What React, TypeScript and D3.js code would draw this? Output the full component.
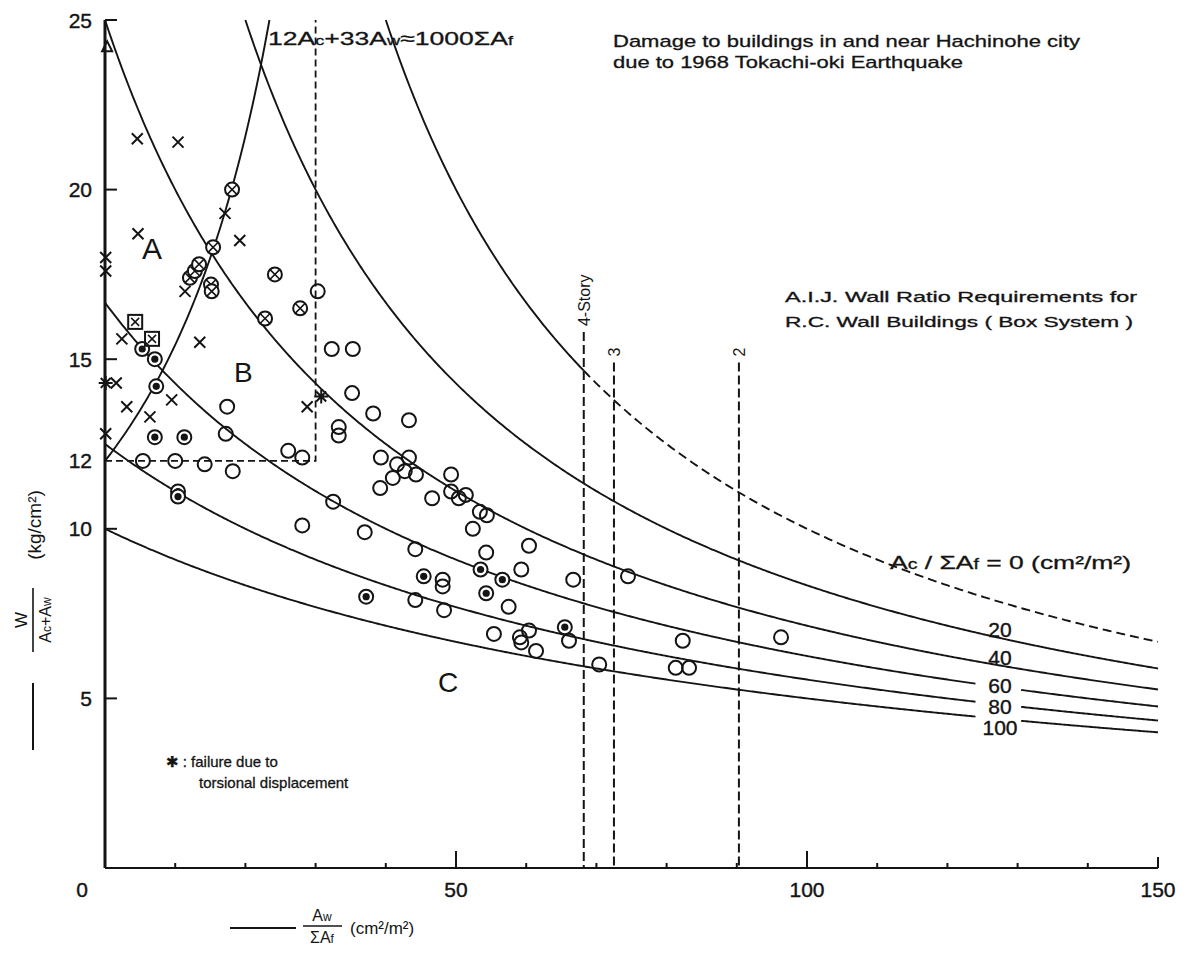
import React from 'react';
import * as d3 from 'd3';

// Ac/ΣAf levels of the hyperbolas y = 1000 / (c + x)
const ratioLevels = [0, 20, 40, 60, 80, 100];
const levelLabels = ['20', '40', '60', '80', '100'];
const xTickValues = [0, 50, 100, 150];
const yTickValues = [5, 10, 15, 20, 25];
const yTickLabels = ['25', '20', '15', '12', '10', '5'];
const storyLabels = ['4-Story', '3', '2'];
const storyX = [68.2, 72.5, 90.3];
const storyTop = [15.8, 14.9, 14.9];

// observed buildings [Aw/ΣAf, W/(Ac+Aw)]
const trianglePts = [[0.3, 24.2]];
const crossPts = [
  [4.6, 21.5], [10.4, 21.4], [4.7, 18.7], [17.1, 19.3], [19.2, 18.5], [11.4, 17.0],
  [0.1, 18.0], [0.1, 17.6], [1.6, 14.3], [0.1, 12.8], [2.4, 15.6], [3.1, 13.6],
  [6.4, 13.3], [9.5, 13.8], [13.5, 15.5], [28.8, 13.6],
];
const asteriskPts = [[0.1, 14.3], [30.8, 13.9]];
const squarePts = [[4.3, 16.1], [6.7, 15.6]];
const circledCrossPts = [
  [12.1, 17.4], [12.8, 17.6], [13.4, 17.8], [18.1, 20.0], [15.4, 18.3], [15.1, 17.2],
  [15.2, 17.0], [24.2, 17.5], [27.8, 16.5], [22.8, 16.2],
];
const dotCirclePts = [
  [5.3, 15.3], [7.1, 15.0], [7.3, 14.2], [7.1, 12.7], [11.3, 12.7], [10.4, 11.1],
  [10.4, 10.95], [53.5, 8.8], [56.6, 8.5], [45.4, 8.6], [37.2, 8.0], [54.3, 8.1], [65.5, 7.1],
];
const openCirclePts = [
  [5.4, 12.0], [10.0, 12.0], [14.2, 11.9], [30.3, 17.0], [17.4, 13.6], [17.2, 12.8],
  [18.2, 11.7], [26.1, 12.3], [28.1, 12.1], [28.1, 10.1], [32.5, 10.8], [32.3, 15.3],
  [35.3, 15.3], [33.3, 13.0], [33.3, 12.75], [35.2, 14.0], [38.2, 13.4], [39.3, 12.1],
  [39.2, 11.2], [41.0, 11.5], [41.6, 11.9], [42.7, 11.7], [43.3, 12.1], [44.3, 11.6],
  [43.3, 13.2], [46.6, 10.9], [49.3, 11.6], [49.3, 11.1], [50.4, 10.9], [51.4, 11.0],
  [52.4, 10.0], [53.4, 10.5], [54.4, 10.4], [37.0, 9.9], [44.2, 9.4], [54.3, 9.3],
  [60.4, 9.5], [59.3, 8.8], [57.5, 7.7], [48.1, 8.5], [48.1, 8.3], [44.2, 7.9],
  [48.3, 7.6], [55.4, 6.9], [59.1, 6.8], [59.3, 6.65], [60.4, 7.0], [61.4, 6.4],
  [66.1, 6.7], [66.7, 8.5], [74.5, 8.6], [70.4, 6.0], [82.3, 6.7], [81.3, 5.9],
  [83.2, 5.9], [96.3, 6.8],
];

const W = 1188;
const H = 953;
const ink = '#141414';
const font = "'Liberation Sans', 'DejaVu Sans', sans-serif";

const x = d3.scaleLinear().domain([0, 150]).range([105, 1158]);
const y = d3.scaleLinear().domain([0, 25]).range([868, 20]);

const line = d3.line<number[]>().x(d => x(d[0])).y(d => y(d[1]));

const sample = (f: (v: number) => number, a: number, b: number) => {
  const pts = d3.range(a, b, 0.25).map(v => [v, f(v)]);
  pts.push([b, f(b)]);
  return line(pts) as string;
};

const Marker = ({ type, p }: { type: string; p: number[] }) => {
  const cx = x(p[0]);
  const cy = y(p[1]);
  const r = 7;
  const sw = 2;
  if (type === 'x') {
    const s = 5.5;
    return (
      <path d={`M${cx - s},${cy - s}L${cx + s},${cy + s}M${cx - s},${cy + s}L${cx + s},${cy - s}`} stroke={ink} strokeWidth={sw} />
    );
  }
  if (type === 'ast') {
    const s = 7;
    const d = d3.range(0, 180, 45).map(a => {
      const t = (a * Math.PI) / 180;
      return `M${cx - s * Math.cos(t)},${cy - s * Math.sin(t)}L${cx + s * Math.cos(t)},${cy + s * Math.sin(t)}`;
    }).join('');
    return <path d={d} stroke={ink} strokeWidth={sw} />;
  }
  if (type === 'tri') {
    return <path d={`M${cx},${cy - 6}L${cx + 5},${cy + 4}L${cx - 5},${cy + 4}Z`} fill="none" stroke={ink} strokeWidth={sw} />;
  }
  if (type === 'sq') {
    return (
      <g stroke={ink} strokeWidth={sw} fill="none">
        <rect x={cx - 7} y={cy - 7} width={14} height={14} />
        <path d={`M${cx - 4},${cy - 4}L${cx + 4},${cy + 4}M${cx - 4},${cy + 4}L${cx + 4},${cy - 4}`} strokeWidth={1.5} />
      </g>
    );
  }
  if (type === 'ox') {
    const s = 4.8;
    return (
      <g stroke={ink} strokeWidth={sw} fill="#fff">
        <circle cx={cx} cy={cy} r={r} />
        <path d={`M${cx - s},${cy - s}L${cx + s},${cy + s}M${cx - s},${cy + s}L${cx + s},${cy - s}`} strokeWidth={1.6} />
      </g>
    );
  }
  if (type === 'od') {
    return (
      <g stroke={ink} strokeWidth={sw}>
        <circle cx={cx} cy={cy} r={r} fill="#fff" />
        <circle cx={cx} cy={cy} r={3.6} fill={ink} stroke="none" />
      </g>
    );
  }
  return <circle cx={cx} cy={cy} r={r} fill="none" stroke={ink} strokeWidth={sw} />;
};

export default function App() {
  const gapStart = 124;
  const gapEnd = 130.5;
  const curves: { d: string; dashed: boolean }[] = [];
  ratioLevels.forEach(c => {
    const f = (v: number) => 1000 / (c + v);
    const start = Math.max(0, 1000 / 25 - c);
    if (c === 0) {
      curves.push({ d: sample(f, start, storyX[0]), dashed: false });
      curves.push({ d: sample(f, storyX[0], 150), dashed: true });
    } else if (c >= 60) {
      curves.push({ d: sample(f, start, gapStart), dashed: false });
      curves.push({ d: sample(f, gapEnd, 150), dashed: false });
    } else {
      curves.push({ d: sample(f, start, 150), dashed: false });
    }
  });

  // boundary between zones A and B
  const k = 0.0222;
  const boundary = (v: number) => 12 / (1 - k * v);
  const bEnd = (1 - 12 / 25) / k;

  const labelY = [637, 665, 693, 714, 735];

  return (
    <svg width={W} height={H} style={{ position: 'absolute', left: 0, top: 0, background: '#fff' }} fontFamily={font}>
      <rect width={W} height={H} fill="#fff" />

      {/* axes */}
      <line x1={x(0)} y1={y(0)} x2={x(0)} y2={y(25)} stroke={ink} strokeWidth={3} />
      <line x1={x(0)} y1={y(25)} x2={x(0) + 10} y2={y(25)} stroke={ink} strokeWidth={2} />
      <line x1={x(0)} y1={y(0)} x2={x(150)} y2={y(0)} stroke={ink} strokeWidth={2.2} />
      {d3.range(10, 151, 10).map(v => (
        <line key={v} x1={x(v)} x2={x(v)} y1={y(0)} y2={y(0) - (v % 50 === 0 ? (v === 150 ? 11 : 17) : 5)} stroke={ink} strokeWidth={2} />
      ))}
      {yTickValues.map(v => (
        <line key={v} x1={x(0)} x2={x(0) + 12} y1={y(v)} y2={y(v)} stroke={ink} strokeWidth={2} />
      ))}
      <g fill={ink} stroke={ink} strokeWidth={0.4}>
        {xTickValues.map(v => (
          <text key={v} x={v === 0 ? 82 : x(v)} y={897} fontSize={21} textAnchor="middle">{v}</text>
        ))}
        {yTickLabels.map(t => (
          <text key={t} x={92} y={y(+t) + 7.5} fontSize={21} textAnchor="end">{t}</text>
        ))}
      </g>

      {/* axis titles */}
      <g transform="translate(33,620) rotate(-90)" fill={ink}>
        <text x={0} y={-6} fontSize={17} textAnchor="middle">W</text>
        <line x1={-32} x2={32} y1={0} y2={0} stroke={ink} strokeWidth={1.6} />
        <text x={0} y={18} fontSize={16} textAnchor="middle">A<tspan fontSize={12}>c</tspan>+A<tspan fontSize={12}>w</tspan></text>
      </g>
      <g transform="translate(34,525) rotate(-90)" fill={ink}>
        <text x={0} y={7} fontSize={19} textAnchor="middle">(kg/cm²)</text>
      </g>
      <line x1={33} x2={33} y1={683} y2={750} stroke={ink} strokeWidth={2} />

      <line x1={230} x2={296} y1={928} y2={928} stroke={ink} strokeWidth={2} />
      <text x={322} y={921} fontSize={16} textAnchor="middle" fill={ink}>A<tspan fontSize={12}>w</tspan></text>
      <line x1={303} x2={342} y1={926} y2={926} stroke={ink} strokeWidth={1.5} />
      <text x={322} y={943} fontSize={16} textAnchor="middle" fill={ink}>ΣA<tspan fontSize={12}>f</tspan></text>
      <text x={350} y={934} fontSize={17} fill={ink}>(cm²/m²)</text>

      {/* design curves */}
      {curves.map((c, i) => (
        <path key={i} d={c.d} fill="none" stroke={ink} strokeWidth={1.9} strokeDasharray={c.dashed ? '9,5' : undefined} />
      ))}
      <path d={sample(boundary, 0, bEnd)} fill="none" stroke={ink} strokeWidth={1.9} />
      <path d={line([[0, 12], [30, 12], [30, 25]]) as string} fill="none" stroke={ink} strokeWidth={1.8} strokeDasharray="7,4" />

      {storyX.map((v, i) => (
        <g key={v}>
          <line x1={x(v)} x2={x(v)} y1={y(storyTop[i])} y2={y(0)} stroke={ink} strokeWidth={2} strokeDasharray="9,4" />
          <text transform={`translate(${x(v) + 6},${y(storyTop[i]) - 6}) rotate(-90)`} fontSize={16} fill={ink}>{storyLabels[i]}</text>
        </g>
      ))}

      {levelLabels.map((t, i) => (
        <text key={t} x={1000} y={labelY[i]} fontSize={21} textAnchor="middle" fill={ink} stroke={ink} strokeWidth={0.4}>{t}</text>
      ))}

      {/* markers */}
      {openCirclePts.map((p, i) => <Marker key={'o' + i} type="o" p={p} />)}
      {dotCirclePts.map((p, i) => <Marker key={'d' + i} type="od" p={p} />)}
      {circledCrossPts.map((p, i) => <Marker key={'c' + i} type="ox" p={p} />)}
      {squarePts.map((p, i) => <Marker key={'s' + i} type="sq" p={p} />)}
      {crossPts.map((p, i) => <Marker key={'x' + i} type="x" p={p} />)}
      {asteriskPts.map((p, i) => <Marker key={'a' + i} type="ast" p={p} />)}
      {trianglePts.map((p, i) => <Marker key={'t' + i} type="tri" p={p} />)}

      {/* annotations */}
      <g fill={ink} stroke={ink} strokeWidth={0.3}>
        <text x={613} y={47} fontSize={17} textLength={467} lengthAdjust="spacingAndGlyphs">Damage to buildings in and near Hachinohe city</text>
        <text x={613} y={68} fontSize={17} textLength={350} lengthAdjust="spacingAndGlyphs">due to 1968 Tokachi-oki Earthquake</text>
        <text x={268} y={45} fontSize={19} textLength={245} lengthAdjust="spacingAndGlyphs">12A<tspan fontSize={13}>c</tspan>+33A<tspan fontSize={13}>w</tspan>≈1000ΣA<tspan fontSize={13}>f</tspan></text>
        <text x={785} y={302} fontSize={14} textLength={352} lengthAdjust="spacingAndGlyphs">A.I.J. Wall Ratio Requirements for</text>
        <text x={785} y={327} fontSize={14} textLength={348} lengthAdjust="spacingAndGlyphs">R.C. Wall Buildings   ( Box System )</text>
        <text x={890} y={569} fontSize={19} textLength={241} lengthAdjust="spacingAndGlyphs">A<tspan fontSize={14}>c</tspan> / ΣA<tspan fontSize={14}>f</tspan> =  0 (cm²/m²)</text>
        <text x={166} y={767} fontSize={15}>✱ : failure due to</text>
        <text x={199} y={788} fontSize={15}>torsional displacement</text>
      </g>

      <text x={142} y={259} fontSize={30} fill={ink}>A</text>
      <text x={234} y={382} fontSize={28} fill={ink}>B</text>
      <text x={438} y={692} fontSize={28} fill={ink}>C</text>
    </svg>
  );
}
